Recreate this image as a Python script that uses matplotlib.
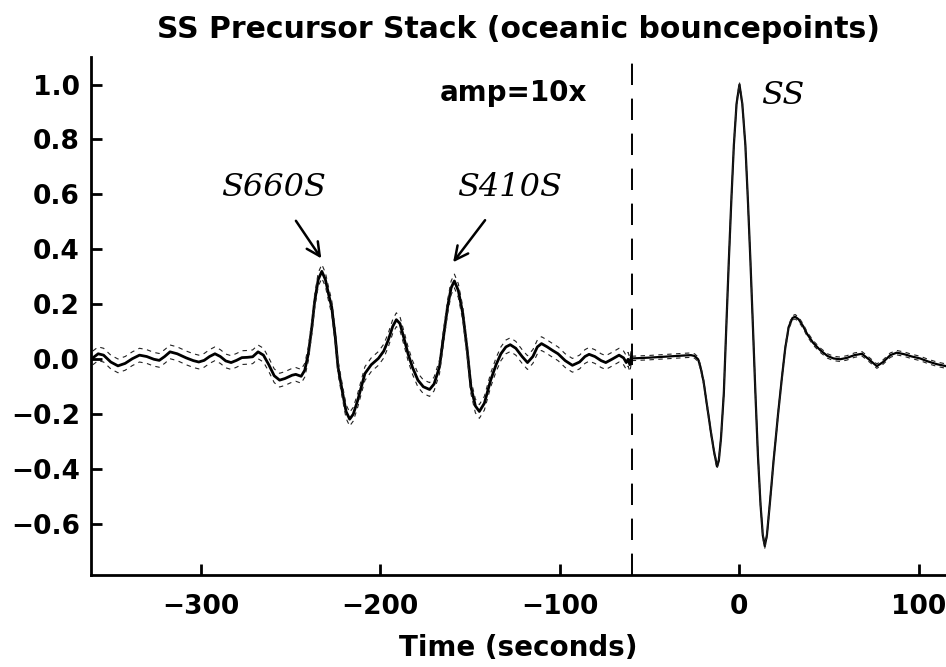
import matplotlib
matplotlib.use("Agg")
import matplotlib.pyplot as plt
import numpy as np

# precursor window (already multiplied by amp factor)
pre_t = [-360, -357, -354, -350, -346, -342, -338, -334, -330, -326, -323, -320,
         -317, -313, -308, -304, -301, -298, -295, -292, -289, -286, -283, -280,
         -277, -274, -271, -268, -265, -262, -259, -256, -253, -249, -247, -244,
         -242, -240, -238, -236.5, -234.5, -232.5, -230.5, -228.5, -227, -225,
         -223.5, -221, -219, -217, -215, -212.5, -210.5, -208.5, -205, -201,
         -198, -195.5, -193, -191, -189, -186.5, -184.5, -182, -179, -176,
         -172.5, -170, -167, -165, -162.5, -160.5, -158.7, -156.5, -154, -151.5,
         -149.5, -147, -144.8, -142, -138.5, -135.5, -132.8, -130, -127.6, -124.5,
         -121, -118, -115, -112.5, -110.2, -107, -104, -101, -97, -93, -89, -86,
         -83.7, -80.5, -77, -74.4, -71, -67, -64.5, -63, -62, -61, -60.2]
pre_amp = [0.005, 0.02, 0.015, -0.01, -0.024, -0.015, 0.002, 0.015, 0.01, 0.0, -0.004, 0.01,
           0.027, 0.02, 0.005, -0.005, -0.01, -0.004, 0.01, 0.02, 0.01, -0.006, -0.012, -0.004,
           0.006, 0.007, 0.009, 0.027, 0.015, -0.02, -0.06, -0.076, -0.07, -0.058, -0.055, -0.062,
           -0.04, 0.02, 0.12, 0.21, 0.29, 0.32, 0.29, 0.23, 0.19, 0.08,
           -0.028, -0.12, -0.19, -0.218, -0.2, -0.149, -0.1, -0.052, -0.02, 0.003,
           0.03, 0.07, 0.12, 0.144, 0.13, 0.07, 0.02, -0.03, -0.076, -0.1,
           -0.11, -0.09, -0.028, 0.07, 0.19, 0.26, 0.285, 0.25, 0.166, 0.03,
           -0.1, -0.17, -0.19, -0.16, -0.076, -0.02, 0.02, 0.045, 0.053, 0.04,
           0.01, -0.012, 0.01, 0.045, 0.057, 0.045, 0.032, 0.02, -0.005, -0.022, -0.01, 0.01,
           0.018, 0.01, -0.005, -0.012, 0.0, 0.015, 0.005, -0.012, 0.0, -0.02, 0.01]
pre_err = 0.025

# main SS window
ss_t = [-60, -50, -40, -30, -27, -25, -23, -21.7, -20, -18, -16, -14.3, -12.5,
        -11.5, -10.3, -8.7, -7.3, -5.9, -4.5, -3.1, -1.6, 0, 1.6, 3.3, 4.7, 6.1,
        7.5, 8.9, 10.3, 11.7, 13, 14.1, 15.3, 17, 19, 21.5, 23.7, 25.5, 27.4,
        29.5, 31, 33, 35.5, 37.6, 41, 45, 49, 52.4, 56, 59.8, 64, 68.2, 72, 76.5,
        80, 84, 87.6, 92, 96, 100.6, 105, 110, 115]
ss_amp = [0.003, 0.006, 0.01, 0.014, 0.015, 0.012, 0.0, -0.028, -0.08, -0.17, -0.26, -0.33, -0.39,
          -0.37, -0.29, -0.125, 0.12, 0.36, 0.58, 0.78, 0.93, 1.0, 0.93, 0.78, 0.58, 0.36,
          0.12, -0.125, -0.35, -0.525, -0.64, -0.68, -0.64, -0.52, -0.37, -0.2, -0.064, 0.04, 0.117,
          0.15, 0.155, 0.145, 0.12, 0.093, 0.06, 0.033, 0.012, 0.003, 0.0, 0.005, 0.015, 0.02, 0.0, -0.025,
          -0.01, 0.015, 0.024, 0.018, 0.01, 0.003, -0.008, -0.018, -0.025]
ss_err = 0.008

split_t = -60
xticks = [-300, -200, -100, 0, 100]
yticks = [-0.6, -0.4, -0.2, 0.0, 0.2, 0.4, 0.6, 0.8, 1.0]

plt.rcParams['font.family'] = ['DejaVu Sans']
plt.rcParams['font.weight'] = 'bold'

fig = plt.figure(figsize=(9.46, 6.67), dpi=100)
ax = fig.add_axes([0.0962, 0.138, 0.9038, 0.7765])

pre_t = np.array(pre_t); pre_amp = np.array(pre_amp)
ss_t = np.array(ss_t); ss_amp = np.array(ss_amp)

ax.plot(pre_t, pre_amp, color='k', lw=2.0)
ax.plot(pre_t, pre_amp + pre_err, color='#222222', lw=0.8, ls=(0, (4, 4)))
ax.plot(pre_t, pre_amp - pre_err, color='#222222', lw=0.8, ls=(0, (4, 4)))
ax.plot(ss_t, ss_amp, color='k', lw=1.6)
ax.plot(ss_t, ss_amp + ss_err, color='#222222', lw=0.8, ls=(0, (4, 4)))
ax.plot(ss_t, ss_amp - ss_err, color='#222222', lw=0.8, ls=(0, (4, 4)))
ax.axvline(split_t, color='k', lw=1.4, ls=(0, (11, 7)))

ax.set_xlim(-361, 115)
ax.set_ylim(-0.785, 1.1)
ax.set_xticks(xticks)
ax.set_yticks(yticks)
ax.set_xticklabels([f"\u2212{abs(v)}" if v < 0 else str(v) for v in xticks])
ax.set_yticklabels([f"\u2212{abs(v):.1f}" if v < 0 else f"{v:.1f}" for v in yticks])
for s in ['top', 'right']:
    ax.spines[s].set_visible(False)
for s in ['left', 'bottom']:
    ax.spines[s].set_linewidth(2.0)
ax.tick_params(direction='in', length=8, width=2.0, labelsize=19)
ax.tick_params(axis='x', pad=14)
ax.tick_params(axis='y', pad=8)

ax.set_xlabel("Time (seconds)", fontsize=20, weight='bold', labelpad=10)
ax.set_title("SS Precursor Stack (oceanic bouncepoints)", fontsize=21.5,
             weight='bold', pad=14)

ax.text(-126, 0.97, "amp=10x", fontsize=20, ha='center', va='center')
ax.text(24, 0.96, "SS", fontsize=23, family='DejaVu Serif', style='italic',
        weight='normal', ha='center', va='center')
ax.annotate("S660S", xy=(-232.8, 0.367), xytext=(-259.4, 0.625),
            fontsize=23, family='DejaVu Serif', style='italic', weight='normal',
            ha='center', va='center',
            arrowprops=dict(arrowstyle='->', lw=1.8, color='k', shrinkA=13, shrinkB=0,
                            mutation_scale=24))
ax.annotate("S410S", xy=(-159.4, 0.353), xytext=(-127.8, 0.625),
            fontsize=23, family='DejaVu Serif', style='italic', weight='normal',
            ha='center', va='center',
            arrowprops=dict(arrowstyle='->', lw=1.8, color='k', shrinkA=13, shrinkB=0,
                            mutation_scale=24))

fig.savefig("out.png", dpi=100)
